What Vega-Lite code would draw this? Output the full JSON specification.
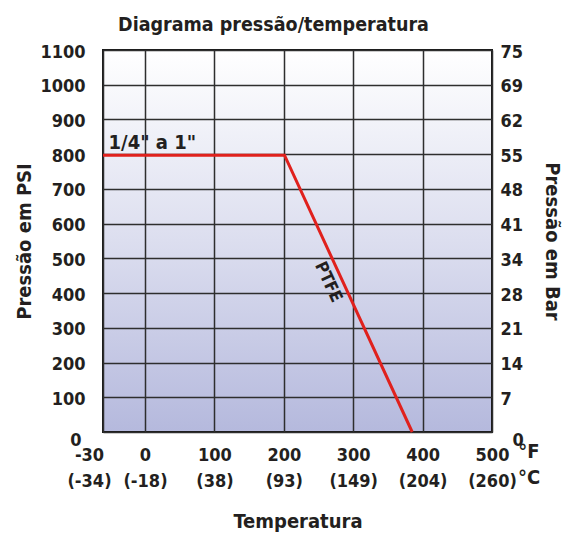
{
  "$schema": "https://vega.github.io/schema/vega-lite/v6.json",
  "width": 389,
  "height": 382,
  "autosize": "none",
  "padding": {"left": 103, "top": 50, "right": 78, "bottom": 104},
  "background": "#ffffff",
  "config": {
    "font": "DejaVu Sans Condensed, DejaVu Sans",
    "view": {
      "stroke": "#1a1a1a",
      "strokeWidth": 2,
      "fill": {"gradient": "linear", "x1": 0, "y1": 0, "x2": 0, "y2": 1,
        "stops": [{"offset": 0, "color": "#ffffff"}, {"offset": 0.5, "color": "#dcdeef"}, {"offset": 1, "color": "#b5b9dd"}]}
    }
  },
  "title": {
    "text": "Diagrama pressão/temperatura",
    "font": "DejaVu Sans Condensed, DejaVu Sans",
    "fontSize": 19.5,
    "fontWeight": "bold",
    "color": "#231f20",
    "anchor": "middle",
    "dx": -24,
    "offset": 8
  },
  "datasets": {
    "curve": [
      {"t": -30, "p": 797},
      {"t": 201, "p": 797},
      {"t": 385, "p": 0}
    ],
    "notes": [
      {"t": -26, "p": 832, "text": "1/4\" a 1\"", "angle": 0, "size": 20},
      {"t": 251, "p": 487, "text": "PTFE", "angle": 65, "size": 17}
    ],
    "unitF": [{"t": 500, "p": 0, "text": "°F"}],
    "unitC": [{"t": 500, "p": 0, "text": "°C"}]
  },
  "encoding": {
    "x": {
      "field": "t", "type": "quantitative",
      "scale": {"domain": [-30, 0, 500], "range": [0, 42, 389], "nice": false, "zero": false},
      "axis": {
        "values": [-30, 0, 100, 200, 300, 400, 500],
        "orient": "bottom",
        "title": "Temperatura",
        "titleFontSize": 20,
        "titleFontWeight": "bold",
        "titleColor": "#231f20",
        "titlePadding": 21,
        "labelExpr": "['' + datum.value, datum.value==-30?'(-34)':datum.value==0?'(-18)':datum.value==100?'(38)':datum.value==200?'(93)':datum.value==300?'(149)':datum.value==400?'(204)':'(260)']",
        "labelFontSize": 18,
        "labelFontWeight": "bold",
        "labelColor": "#231f20",
        "labelLineHeight": 26,
        "labelPadding": 14,
        "labelOffset": {"condition": {"test": "datum.value == -30", "value": -14}, "value": 0},
        "labelOverlap": false,
        "labelFlush": false,
        "ticks": false,
        "domain": false,
        "grid": true,
        "gridColor": "#2e2e2e",
        "gridWidth": 1.5,
        "gridOpacity": 1
      }
    },
    "y": {"field": "p", "type": "quantitative", "scale": {"domain": [0, 1100], "nice": false}, "axis": null}
  },
  "resolve": {"axis": {"y": "independent"}},
  "layer": [
    {
      "data": {"name": "curve"},
      "mark": {"type": "line", "opacity": 0},
      "encoding": {
        "y": {
          "field": "p", "type": "quantitative",
          "scale": {"domain": [0, 1100], "nice": false},
          "axis": {
            "values": [0, 100, 200, 300, 400, 500, 600, 700, 800, 900, 1000, 1100],
            "orient": "left",
            "format": "d",
            "title": "Pressão em PSI",
            "titleFontSize": 20,
            "titleFontWeight": "bold",
            "titleColor": "#231f20",
            "titlePadding": 5,
            "labelFontSize": 18,
            "labelFontWeight": "bold",
            "labelColor": "#231f20",
            "labelPadding": {"condition": {"test": "datum.value == 0", "value": 22}, "value": 18},
            "labelOffset": {"condition": {"test": "datum.value == 0", "value": 8}, "value": 2},
            "labelOverlap": false,
            "labelFlush": false,
            "ticks": false,
            "domain": false,
            "grid": true,
            "gridColor": "#2e2e2e",
            "gridWidth": 1.5,
            "gridOpacity": 1
          }
        }
      }
    },
    {
      "data": {"name": "curve"},
      "mark": {"type": "line", "color": "#e0211d", "strokeWidth": 3},
      "encoding": {
        "y": {
          "field": "p", "type": "quantitative",
          "scale": {"domain": [0, 1100], "nice": false},
          "axis": {
            "values": [0, 100, 200, 300, 400, 500, 600, 700, 800, 900, 1000, 1100],
            "orient": "right",
            "title": "Pressão em Bar",
            "titleAngle": 90,
            "titleFontSize": 20,
            "titleFontWeight": "bold",
            "titleColor": "#231f20",
            "titlePadding": 18,
            "labelExpr": "['0','7','14','21','28','34','41','48','55','62','69','75'][round(datum.value/100)]",
            "labelFontSize": 18,
            "labelFontWeight": "bold",
            "labelColor": "#231f20",
            "labelPadding": {"condition": {"test": "datum.value == 0", "value": 20}, "value": 8},
            "labelOffset": {"condition": {"test": "datum.value == 0", "value": 8}, "value": 2},
            "labelOverlap": false,
            "labelFlush": false,
            "ticks": false,
            "domain": false,
            "grid": false
          }
        }
      }
    },
    {
      "data": {"name": "notes"},
      "mark": {"type": "text", "align": "left", "baseline": "middle", "fontWeight": "bold", "color": "#231f20"},
      "encoding": {
        "text": {"field": "text"},
        "angle": {"field": "angle", "type": "quantitative", "scale": null},
        "size": {"field": "size", "type": "quantitative", "scale": null}
      }
    },
    {
      "data": {"name": "unitF"},
      "mark": {"type": "text", "align": "center", "baseline": "middle", "fontWeight": "bold", "fontSize": 20, "color": "#231f20", "dx": 37, "dy": 20},
      "encoding": {"text": {"field": "text"}}
    },
    {
      "data": {"name": "unitC"},
      "mark": {"type": "text", "align": "center", "baseline": "middle", "fontWeight": "bold", "fontSize": 20, "color": "#231f20", "dx": 37, "dy": 46},
      "encoding": {"text": {"field": "text"}}
    }
  ]
}
